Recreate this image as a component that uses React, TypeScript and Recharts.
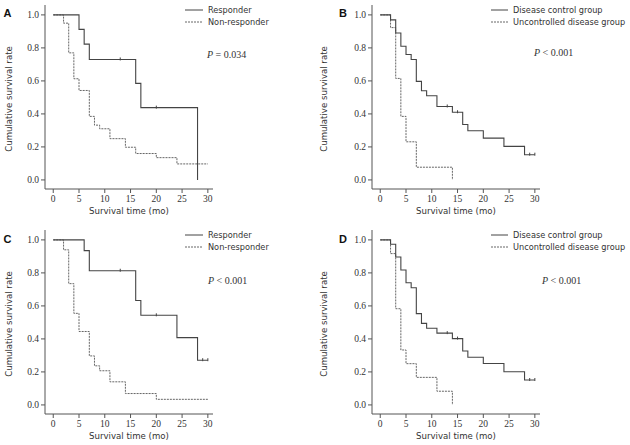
import React from 'react';
import { LineChart, Line, XAxis, YAxis, Legend, Label } from 'recharts';

// Panel A: responder vs non-responder
const respA_t = [0, 5, 6, 7, 13, 16, 17, 20, 28];
const respA_s = [1, 0.912, 0.823, 0.73, 0.73, 0.585, 0.438, 0.438, 0];
const respA_c = [0, 0, 0, 0, 1, 0, 0, 1, 0];
const nonA_t = [0, 2, 3, 4, 5, 7, 8, 9, 11, 14, 16, 20, 24, 30];
const nonA_s = [1, 0.95, 0.77, 0.613, 0.542, 0.385, 0.332, 0.31, 0.25, 0.198, 0.16, 0.135, 0.097, 0.097];

// Panel B: disease control vs uncontrolled
const ctrlB_t = [0, 2, 3, 4, 5, 6, 7, 8, 9, 11, 13, 14, 15, 16, 17, 20, 24, 28, 29, 30];
const ctrlB_s = [1, 0.97, 0.89, 0.81, 0.76, 0.73, 0.597, 0.54, 0.51, 0.445, 0.445, 0.41, 0.41, 0.336, 0.298, 0.253, 0.203, 0.153, 0.153, 0.153];
const ctrlB_c = [0, 0, 0, 0, 0, 0, 0, 0, 0, 0, 1, 0, 1, 0, 0, 0, 0, 0, 1, 1];
const uncB_t = [0, 2, 3, 4, 5, 7, 14];
const uncB_s = [1, 0.923, 0.615, 0.385, 0.231, 0.077, 0];

// Panel C: responder vs non-responder
const respC_t = [0, 6, 7, 13, 16, 17, 20, 24, 28, 29, 30];
const respC_s = [1, 0.935, 0.813, 0.813, 0.633, 0.543, 0.543, 0.408, 0.271, 0.271, 0.271];
const respC_c = [0, 0, 0, 1, 0, 0, 1, 0, 0, 1, 1];
const nonC_t = [0, 2, 3, 4, 5, 7, 8, 9, 11, 14, 20, 30];
const nonC_s = [1, 0.94, 0.735, 0.555, 0.445, 0.297, 0.237, 0.207, 0.14, 0.069, 0.034, 0.034];

// Panel D: disease control vs uncontrolled
const ctrlD_t = [0, 2, 3, 4, 5, 6, 7, 8, 9, 11, 13, 14, 15, 16, 17, 20, 24, 28, 29, 30];
const ctrlD_s = [1, 0.974, 0.896, 0.818, 0.74, 0.71, 0.553, 0.494, 0.465, 0.435, 0.435, 0.402, 0.402, 0.327, 0.289, 0.251, 0.201, 0.151, 0.151, 0.151];
const ctrlD_c = [0, 0, 0, 0, 0, 0, 0, 0, 0, 0, 1, 0, 1, 0, 0, 0, 0, 0, 1, 1];
const uncD_t = [0, 2, 3, 4, 5, 7, 11, 14];
const uncD_s = [1, 0.917, 0.583, 0.333, 0.25, 0.167, 0.083, 0];

const xTicks = [0, 5, 10, 15, 20, 25, 30];
const yTicks = [0, 0.2, 0.4, 0.6, 0.8, 1.0];
const respLabels = ['Responder', 'Non-responder'];
const ctrlLabels = ['Disease control group', 'Uncontrolled disease group'];

const SANS = '"DejaVu Sans", Verdana, sans-serif';
const SERIF = '"Liberation Serif", "Times New Roman", serif';
const AXIS = '#555';

const toRows = (t: number[], s: number[], c?: number[]) =>
  t.map((v, i) => ({ t: v, s: s[i], c: c ? c[i] : 0 }));

// censored cases get a small vertical tick
const censorDot = (p: any) => {
  if (!p.payload || !p.payload.c) return <g key={`n-${p.index}`} />;
  return (
    <line key={`c-${p.index}`} x1={p.cx} x2={p.cx} y1={p.cy - 2} y2={p.cy + 1} stroke="#444" strokeWidth={1} />
  );
};

const makeLegend = (labels: string[], textX: number) => () => (
  <svg width={150} height={28} style={{ display: 'block' }}>
    <line x1={0} x2={textX - 5} y1={6} y2={6} stroke="#444" strokeWidth={1} />
    <line x1={0} x2={textX - 5} y1={18} y2={18} stroke="#666" strokeWidth={1} strokeDasharray="2 1" />
    <text x={textX} y={9} fontFamily={SANS} fontSize={8.2} fill="#333">{labels[0]}</text>
    <text x={textX} y={21} fontFamily={SANS} fontSize={8.2} fill="#333">{labels[1]}</text>
  </svg>
);

interface PanelProps {
  left: number;
  top: number;
  axisW: number;
  legendX: number;
  legendTextX: number;
  labels: string[];
  solid: { t: number; s: number; c: number }[];
  dashed: { t: number; s: number; c: number }[];
}

function Panel({ left, top, axisW, legendX, legendTextX, labels, solid, dashed }: PanelProps) {
  return (
    <div style={{ position: 'absolute', left, top }}>
      <LineChart width={315} height={222} margin={{ top: 5, right: 315 - axisW - 168, left: 0, bottom: 0 }}>
        <XAxis
          type="number"
          dataKey="t"
          domain={[-1.6, 31]}
          ticks={xTicks}
          allowDataOverflow
          height={33}
          tickSize={4}
          axisLine={{ stroke: AXIS }}
          tickLine={{ stroke: AXIS }}
          tick={{ fontFamily: SERIF, fontSize: 9.5, fill: '#333' }}
        >
          <Label value="Survival time (mo)" position="insideBottom" offset={8} style={{ fontFamily: SANS, fontSize: 8.6, fill: '#333' }} />
        </XAxis>
        <YAxis
          type="number"
          domain={[-0.055, 1.06]}
          ticks={yTicks}
          allowDataOverflow
          width={axisW}
          tickSize={4}
          tickFormatter={(v: number) => v.toFixed(1)}
          axisLine={{ stroke: AXIS }}
          tickLine={{ stroke: AXIS }}
          tick={{ fontFamily: SERIF, fontSize: 9.5, fill: '#333' }}
        >
          <Label
            content={() => (
              <text
                x={9}
                y={99}
                transform="rotate(-90, 9, 99)"
                textAnchor="middle"
                dominantBaseline="central"
                fontFamily={SANS}
                fontSize={8.6}
                fill="#333"
              >
                Cumulative survival rate
              </text>
            )}
          />
        </YAxis>
        <Legend
          layout="horizontal"
          verticalAlign="middle"
          align="center"
          wrapperStyle={{ top: 4, left: legendX, width: 150, height: 28 }}
          content={makeLegend(labels, legendTextX)}
        />
        <Line
          data={dashed}
          dataKey="s"
          type="stepAfter"
          stroke="#666"
          strokeWidth={1}
          strokeDasharray="2 1"
          dot={false}
          activeDot={false}
          isAnimationActive={false}
        />
        <Line
          data={solid}
          dataKey="s"
          type="stepAfter"
          stroke="#444"
          strokeWidth={1.1}
          dot={censorDot}
          activeDot={false}
          isAnimationActive={false}
        />
      </LineChart>
    </div>
  );
}

export default function App() {
  return (
    <div style={{ position: 'absolute', left: 0, top: 0, width: 630, height: 445, overflow: 'hidden', background: '#fff' }}>
      <Panel left={0} top={0} axisW={45} legendX={185} legendTextX={23} labels={respLabels}
        solid={toRows(respA_t, respA_s, respA_c)} dashed={toRows(nonA_t, nonA_s)} />
      <Panel left={315} top={0} axisW={57} legendX={176} legendTextX={22} labels={ctrlLabels}
        solid={toRows(ctrlB_t, ctrlB_s, ctrlB_c)} dashed={toRows(uncB_t, uncB_s)} />
      <Panel left={0} top={225} axisW={45} legendX={185} legendTextX={23} labels={respLabels}
        solid={toRows(respC_t, respC_s, respC_c)} dashed={toRows(nonC_t, nonC_s)} />
      <Panel left={315} top={225} axisW={57} legendX={176} legendTextX={22} labels={ctrlLabels}
        solid={toRows(ctrlD_t, ctrlD_s, ctrlD_c)} dashed={toRows(uncD_t, uncD_s)} />
      <svg width={630} height={445} style={{ position: 'absolute', left: 0, top: 0, pointerEvents: 'none' }}>
        <g fontFamily={'"Liberation Sans", Arial, sans-serif'} fontWeight="bold" fontSize={11} fill="#111">
          <text x={3.5} y={17}>A</text>
          <text x={339} y={17}>B</text>
          <text x={3.5} y={243}>C</text>
          <text x={339} y={243}>D</text>
        </g>
        <g fontFamily={SERIF} fontSize={10} fill="#333">
          <text x={207} y={57.5}><tspan fontStyle="italic">P</tspan> = 0.034</text>
          <text x={534} y={56}><tspan fontStyle="italic">P</tspan> &lt; 0.001</text>
          <text x={208} y={284}><tspan fontStyle="italic">P</tspan> &lt; 0.001</text>
          <text x={542} y={284}><tspan fontStyle="italic">P</tspan> &lt; 0.001</text>
        </g>
      </svg>
    </div>
  );
}
